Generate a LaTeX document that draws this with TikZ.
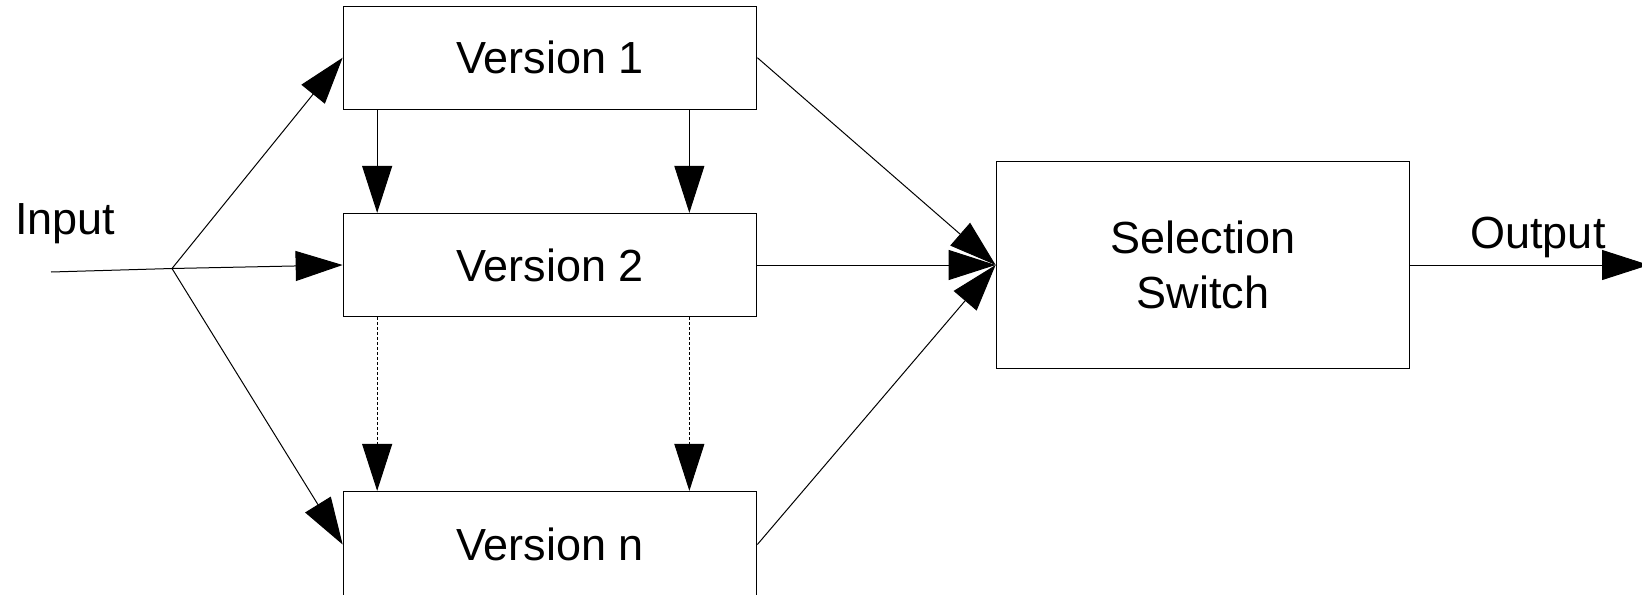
\documentclass[tikz,border=0pt]{standalone}
\usepackage{fontspec}
\setmainfont{Liberation Sans}
\usetikzlibrary{arrows.meta}
\tikzset{
  label font/.style={font=\fontsize{22.5}{27.5}\selectfont},
  box/.style={draw, line width=0.6pt, inner sep=0pt, label font,
    minimum width=206.75pt, minimum height=51.5pt},
  conn/.style={line width=0.5pt, -{Triangle[length=23.5pt,width=15pt]}},
  dotconn/.style={conn, dash pattern=on 1.5pt off 1pt},
  lbl/.style={label font, inner sep=0pt}
}
\begin{document}
\begin{tikzpicture}[x=0.5pt, y=-0.5pt]
  \useasboundingbox (0,0) rectangle (1642,594);

  % versions and selection switch
  \node[box] (v1) at (550,57.7) {Version 1};
  \node[box] (v2) at (550,265) {Version 2};
  \node[box, minimum height=53pt] (vn) at (550,544.5) {Version n};
  \node[box, align=center, minimum width=206.8pt, minimum height=103.3pt]
    (sw) at (1203,265) {Selection\\Switch};

  % labels
  \node[lbl, anchor=base west] (inlbl) at (15,234) {Input};
  \node[lbl, anchor=base west] (outlbl) at (1470,248) {Output};

  % input fan-out
  \coordinate (in) at (51,272);
  \coordinate (br) at (172,268.5);
  \draw[line width=0.5pt] (in) -- (br);
  \draw[conn] (br) -- (v1.west);
  \draw[conn] (br) -- (v2.west);
  \draw[conn] (br) -- (vn.west);

  % links between versions
  \draw[conn] ([xshift=17.25pt]v1.south west) -- ([xshift=17.25pt]v2.north west);
  \draw[conn] ([xshift=-34pt]v1.south east) -- ([xshift=-34pt]v2.north east);
  \draw[dotconn] ([xshift=17.25pt]v2.south west) -- ([xshift=17.25pt]vn.north west);
  \draw[dotconn] ([xshift=-34pt]v2.south east) -- ([xshift=-34pt]vn.north east);

  % versions into the switch
  \draw[conn] (v1.east) -- (sw.west);
  \draw[conn] (v2.east) -- (sw.west);
  \draw[conn] (vn.east) -- (sw.west);

  % output
  \coordinate (out) at (1649,265);
  \draw[conn] (sw.east) -- (out);
\end{tikzpicture}
\end{document}
